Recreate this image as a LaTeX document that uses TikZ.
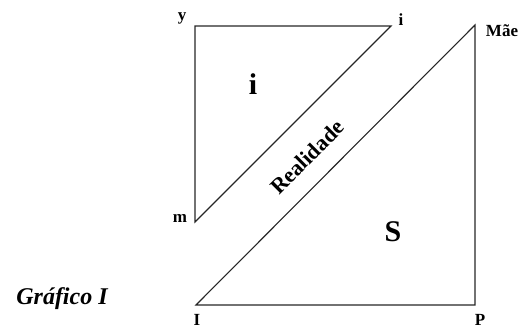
\documentclass[tikz,border=0pt]{standalone}
\usepackage{fontspec}
\setmainfont{Liberation Serif}
\usepackage{tikz}
\usetikzlibrary{positioning}

\begin{document}
\begin{tikzpicture}[
    x=1pt, y=-1pt,
    edgeLine/.style={draw=black!85, line width=1.1pt, line join=miter},
    vertLabel/.style={font=\bfseries\fontsize{17}{20}\selectfont, inner sep=1pt},
    bigLabel/.style={font=\bfseries\fontsize{30}{34}\selectfont},
    titleLabel/.style={font=\bfseries\itshape\fontsize{24}{28}\selectfont}
]
    \useasboundingbox (0,0) rectangle (523,329);

    % Corners
    \coordinate (y)   at (195,26);
    \coordinate (i)   at (391,26);
    \coordinate (m)   at (195,222);
    \coordinate (mae) at (475,25);
    \coordinate (I)   at (196,305);
    \coordinate (P)   at (475,305);

    % Triangles
    \draw[edgeLine] (y) -- (i) -- (m) -- cycle;
    \draw[edgeLine] (I) -- (P) -- (mae) -- cycle;

    % Corner labels
    \node[vertLabel] (ylab)   at (182,18)  {y};
    \node[vertLabel] (ilab)   at (401,20)  {i};
    \node[vertLabel] (maelab) at (502,31)  {Mãe};
    \node[vertLabel] (mlab)   at (180,218) {m};
    \node[vertLabel] (Ilab)   at (197,320) {I};
    \node[vertLabel] (Plab)   at (480,320) {P};

    % Areas
    \node[bigLabel] (inner) at (253,84)  {i};
    \node[bigLabel] (S)     at (393,232) {S};
    \node[font=\bfseries\fontsize{22}{26}\selectfont, rotate=45] (real) at (307,157) {Realidade};

    % Title
    \node[titleLabel] (title) at (62,299) {Gráfico I};
\end{tikzpicture}
\end{document}
